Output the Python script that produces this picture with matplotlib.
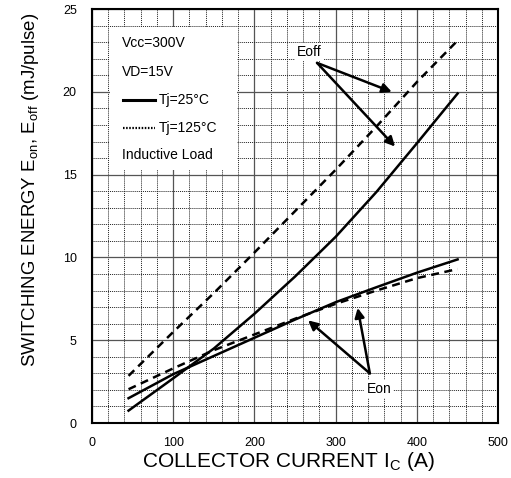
import matplotlib
matplotlib.use('Agg')
import matplotlib.pyplot as plt
from matplotlib.lines import Line2D
from matplotlib.patches import Rectangle
from matplotlib.ticker import MultipleLocator

plt.rcParams['font.family'] = ['Liberation Sans', 'DejaVu Sans']

# collector current (A) and switching energy (mJ/pulse)
ic = [45, 100, 150, 200, 250, 300, 350, 400, 450]
eoff_25 = [0.75, 2.7, 4.5, 6.6, 8.85, 11.25, 13.95, 16.9, 19.9]
eoff_125 = [2.85, 5.5, 7.85, 10.3, 12.8, 15.3, 17.9, 20.6, 23.1]
eon_25 = [1.5, 2.95, 4.05, 5.15, 6.25, 7.3, 8.2, 9.08, 9.88]
eon_125 = [2.04, 3.3, 4.4, 5.35, 6.3, 7.2, 8.0, 8.75, 9.3]

x_ticks = [0, 100, 200, 300, 400, 500]
y_ticks = [0, 5, 10, 15, 20, 25]

fig = plt.figure(figsize=(5.11, 4.78), dpi=100)
ax = fig.add_axes([0.18, 0.115, 0.795, 0.866])

ax.set_xlim(0, 500)
ax.set_ylim(0, 25)
ax.set_xticks(x_ticks)
ax.set_yticks(y_ticks)
ax.xaxis.set_minor_locator(MultipleLocator(20))
ax.yaxis.set_minor_locator(MultipleLocator(1))
ax.grid(which='major', color='#555555', lw=0.9, ls='-')
ax.grid(which='minor', color='#222222', lw=0.7, ls=(0, (1, 1)))
ax.set_axisbelow(True)
ax.tick_params(which='both', length=0, labelsize=9)
ax.tick_params(axis='x', pad=10)
ax.tick_params(axis='y', pad=11)
for sp in ax.spines.values():
    sp.set_linewidth(1.5)

dash = (0, (3.2, 2.2))
ax.plot(ic, eoff_25, color='black', lw=1.8)
ax.plot(ic, eoff_125, color='black', lw=1.8, ls=dash)
ax.plot(ic, eon_25, color='black', lw=1.8)
ax.plot(ic, eon_125, color='black', lw=1.8, ls=dash)

ax.set_xlabel('COLLECTOR CURRENT I$_\\mathregular{C}$ (A)', fontsize=15)
ax.xaxis.set_label_coords(0.483, -0.066)
ax.set_ylabel('SWITCHING ENERGY E$_\\mathregular{on}$, E$_\\mathregular{off}$ (mJ/pulse)',
              fontsize=13.4)
ax.yaxis.set_label_coords(-0.125, 0.563)

# conditions box in the upper left
ax.add_patch(Rectangle((0.044, 0.611), 0.313, 0.346, transform=ax.transAxes,
                       facecolor='white', edgecolor='none', zorder=2))
ax.text(0.074, 0.918, 'Vcc=300V', transform=ax.transAxes, fontsize=10, va='center', zorder=3)
ax.text(0.074, 0.848, 'VD=15V', transform=ax.transAxes, fontsize=10, va='center', zorder=3)
ax.add_line(Line2D([0.076, 0.155], [0.780, 0.780], transform=ax.transAxes,
                   color='black', lw=2.2, zorder=3))
ax.text(0.165, 0.780, 'Tj=25°C', transform=ax.transAxes, fontsize=10, va='center', zorder=3)
ax.add_line(Line2D([0.076, 0.155], [0.713, 0.713], transform=ax.transAxes,
                   color='black', lw=1.6, ls=(0, (0.7, 0.7)), zorder=3))
ax.text(0.165, 0.713, 'Tj=125°C', transform=ax.transAxes, fontsize=10, va='center', zorder=3)
ax.text(0.074, 0.647, 'Inductive Load', transform=ax.transAxes, fontsize=10, va='center', zorder=3)

arrow = dict(arrowstyle='-|>', color='black', lw=1.8, mutation_scale=14, shrinkA=0, shrinkB=0)
box = dict(facecolor='white', edgecolor='none', pad=1.5)

ax.annotate('', xy=(369, 20.0), xytext=(277, 21.75), arrowprops=arrow, zorder=4)
ax.annotate('', xy=(373, 16.7), xytext=(277, 21.75), arrowprops=arrow, zorder=4)
ax.text(268, 22.4, 'Eoff', fontsize=10, ha='center', va='center', bbox=box, zorder=5)

ax.annotate('', xy=(266, 6.2), xytext=(342, 3.0), arrowprops=arrow, zorder=4)
ax.annotate('', xy=(327, 6.95), xytext=(342, 3.0), arrowprops=arrow, zorder=4)
ax.text(353, 2.05, 'Eon', fontsize=10, ha='center', va='center', bbox=box, zorder=5)

fig.savefig('out.png', dpi=100)
